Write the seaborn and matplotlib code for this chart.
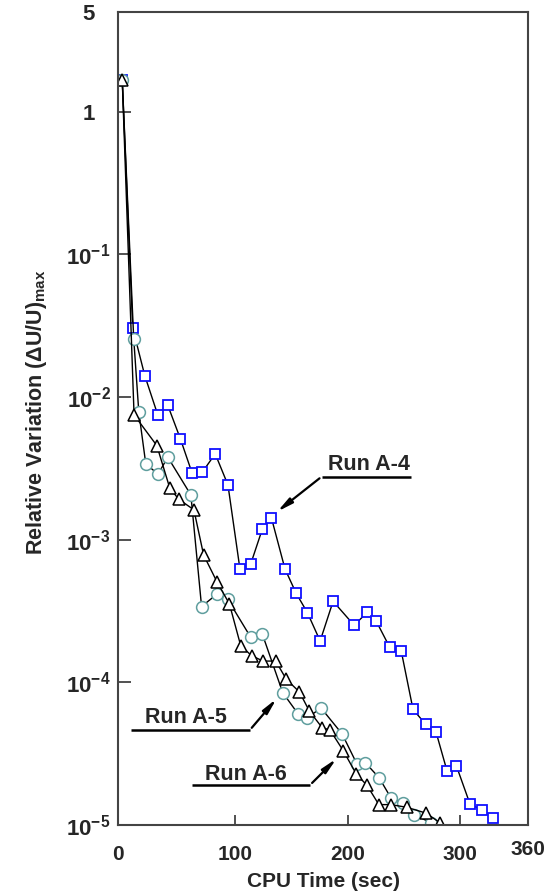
import numpy as np
import pandas as pd
import seaborn as sns
import matplotlib.pyplot as plt
from matplotlib import font_manager

# Run A-4 (blue squares)
a4_time = [0, 9.3, 20, 31.6, 40.2, 51.7, 62, 71, 82.5, 93.8, 104.4, 114, 124.3, 132.3,
           144.4, 154.2, 164.3, 175.6, 187.1, 205.8, 217.3, 225.1, 237.2, 247.6,
           258, 269.2, 278.4, 288.2, 296.4, 308.6, 318.9, 329.1]
a4_var = [1.68, 0.0305, 0.01415, 0.00747, 0.00885, 0.00507, 0.00293, 0.00297, 0.0040,
          0.00242, 6.27e-4, 6.76e-4, 1.186e-3, 1.43e-3, 6.24e-4, 4.23e-4, 3.08e-4,
          1.95e-4, 3.70e-4, 2.51e-4, 3.10e-4, 2.71e-4, 1.77e-4, 1.65e-4,
          6.47e-5, 5.08e-5, 4.49e-5, 2.39e-5, 2.61e-5, 1.40e-5, 1.28e-5, 1.12e-5]

# Run A-5 (circles)
a5_time = [0, 10.2, 14.7, 20.9, 31.8, 40.4, 60.9, 70.4, 84.3, 93.5, 114, 124.3,
           142.4, 156.3, 164.3, 176.4, 195.1, 208.2, 215.6, 228, 238.4, 249.1,
           258.5, 274]
a5_var = [1.68, 0.0256, 0.00787, 0.00340, 0.00288, 0.00379, 0.00206, 3.40e-4, 4.17e-4,
          3.83e-4, 2.07e-4, 2.18e-4, 8.47e-5, 5.97e-5, 5.65e-5, 6.61e-5, 4.35e-5,
          2.68e-5, 2.74e-5, 2.14e-5, 1.55e-5, 1.42e-5, 1.18e-5, 1.04e-5]

# Run A-6 (triangles)
a6_time = [0, 10.5, 30.7, 42.2, 50.2, 63.6, 72.2, 84.3, 95.1, 105.1, 114.7, 124.9,
           136.2, 145.6, 157.2, 166, 177.3, 184.4, 196.3, 207.6, 217.1, 227.7,
           238.4, 252.6, 269.8, 281.6]
a6_var = [1.68, 0.0075, 0.00457, 0.00230, 0.00192, 0.00162, 7.82e-4, 5.02e-4, 3.55e-4,
          1.81e-4, 1.54e-4, 1.41e-4, 1.41e-4, 1.05e-4, 8.57e-5, 6.30e-5, 4.82e-5,
          4.63e-5, 3.30e-5, 2.28e-5, 1.90e-5, 1.39e-5, 1.39e-5, 1.33e-5, 1.21e-5, 1.04e-5]

x_ticks = [0, 100, 200, 300, 360]
x_tick_labels = ['0', '100', '200', '300', '360']
y_ticks = [1e-5, 1e-4, 1e-3, 1e-2, 1e-1, 1, 5]
y_tick_labels = ['$10^{-5}$', '$10^{-4}$', '$10^{-3}$', '$10^{-2}$', '$10^{-1}$', '1', '5']

sns.set_style('ticks')
plt.rcParams['font.family'] = ['Liberation Sans', 'DejaVu Sans']
plt.rcParams['font.weight'] = 'bold'
plt.rcParams['mathtext.fontset'] = 'custom'
plt.rcParams['mathtext.rm'] = 'Liberation Sans:bold'
plt.rcParams['mathtext.bf'] = 'Liberation Sans:bold'
plt.rcParams['mathtext.it'] = 'Liberation Sans:bold'
plt.rcParams['mathtext.default'] = 'rm'

installed = {f.name for f in font_manager.fontManager.ttflist}
narrow = 'Liberation Sans Narrow' in installed

fig = plt.figure(figsize=(5.46, 8.92), dpi=100)
ax = fig.add_axes([0.2156, 0.0751, 0.7514, 0.9114])

df4 = pd.DataFrame({'t': a4_time, 'v': a4_var})
df5 = pd.DataFrame({'t': a5_time, 'v': a5_var})
df6 = pd.DataFrame({'t': a6_time, 'v': a6_var})

sns.lineplot(data=df4, x='t', y='v', ax=ax, color='black', lw=1.0, sort=False,
             estimator=None, marker='s', ms=7.5, mfc='white', mec='#1010ff', mew=1.3)
sns.lineplot(data=df5, x='t', y='v', ax=ax, color='black', lw=1.0, sort=False,
             estimator=None, marker='o', ms=8.5, mfc='white', mec='#5f9e9e', mew=1.1)
sns.lineplot(data=df6, x='t', y='v', ax=ax, color='black', lw=1.0, sort=False,
             estimator=None, marker='^', ms=8.5, mfc='white', mec='black', mew=1.1)

ax.set_yscale('log')
ax.set_xlim(-4, 360)
ax.set_ylim(1e-5, 5)
ax.set_xticks(x_ticks[1:4])
ax.set_xticklabels([])
ax.set_yticks(y_ticks)
ax.set_yticklabels(y_tick_labels)
ax.yaxis.set_minor_locator(plt.NullLocator())
ax.tick_params(axis='both', direction='in', length=9, width=1.2, color='#333333')
ax.tick_params(axis='y', labelsize=16, pad=21)
ax.tick_params(axis='x', length=7)
for lab in ax.get_yticklabels():
    lab.set_fontweight('bold')
    lab.set_horizontalalignment('center')

# x tick labels (0 and 360 sit at the frame edges)
for xv, s in zip(x_ticks, x_tick_labels):
    xp = -4 if s == '0' else xv
    dy = -0.0246 if s != '360' else -0.0185
    ax.text(xp, dy, s, transform=ax.get_xaxis_transform(), ha='center', va='top',
            fontsize=15, fontweight='bold')

for sp in ax.spines.values():
    sp.set_linewidth(1.5)
    sp.set_color('#444444')

ax.set_xlabel('CPU Time (sec)', fontsize=15, fontweight='bold')
ax.xaxis.set_label_coords(0.5016, -0.058)
ylab_font = ['Liberation Sans Narrow', 'Liberation Sans'] if narrow else ['Liberation Sans']
ax.set_ylabel('Relative Variation (ΔU/U)$_{max}$', fontsize=17.5 if narrow else 15.5,
              fontweight='bold', family=ylab_font)
ax.yaxis.set_label_coords(-0.199, 0.508)
ax.yaxis.label.set_va('center')

# annotations
arrow = dict(arrowstyle='-|>,head_length=0.9,head_width=0.18', color='black', lw=1.6)
notes = [('Run A-4', 219, 3.35e-3, 177, 256, 2.77e-3, 135.6, 1.53e-3),
         ('Run A-5', 56.4, 5.64e-5, 7.6, 113.3, 4.64e-5, 138.5, 7.94e-5),
         ('Run A-6', 109.3, 2.26e-5, 61.5, 166.7, 1.91e-5, 191.8, 3.01e-5)]
for label, tx, ty, x1, x2, ly, ax_, ay in notes:
    ax.text(tx, ty, label, ha='center', va='center', fontsize=15.5, fontweight='bold')
    ax.plot([x1, x2], [ly, ly], color='black', lw=1.8, solid_capstyle='butt')
    start = (x1, ly) if label == 'Run A-4' else (x2, ly)
    ax.annotate('', xy=(ax_, ay), xytext=start, arrowprops=arrow)

fig.savefig('out.png', dpi=100)
